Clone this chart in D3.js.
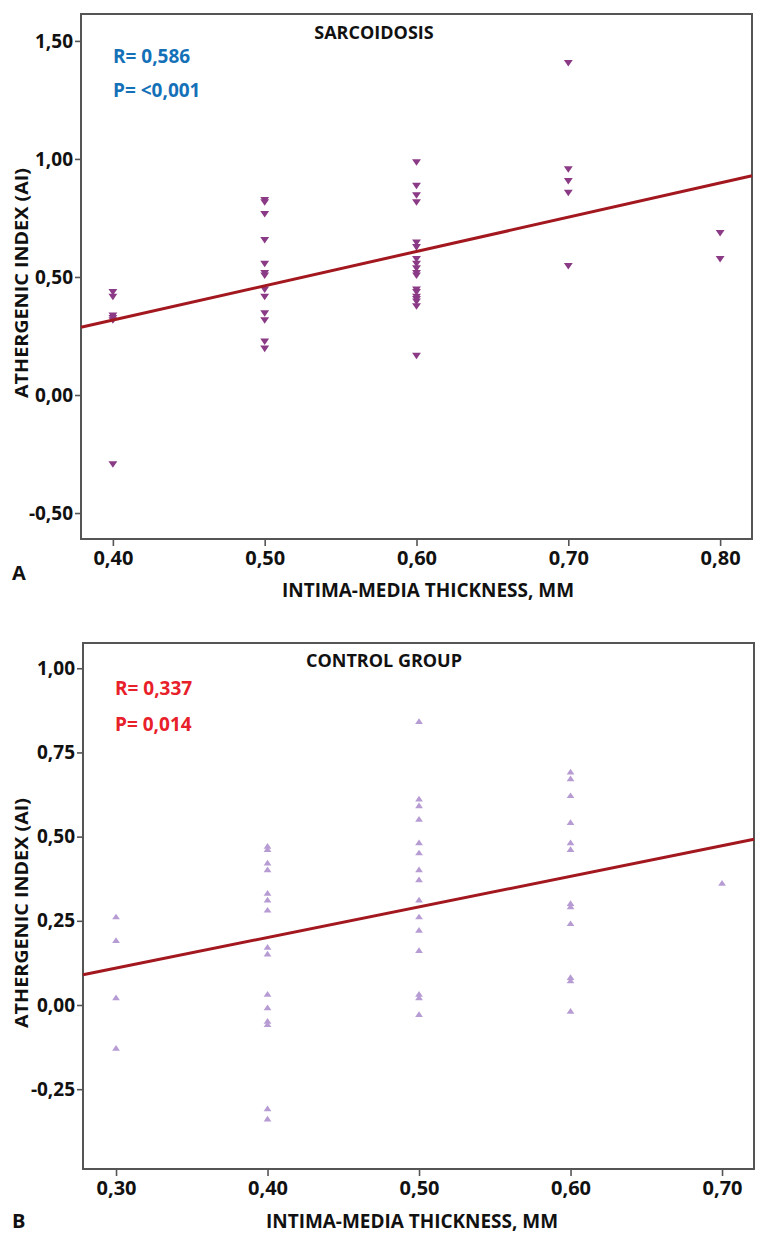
<!DOCTYPE html>
<html>
<head>
<meta charset="utf-8">
<script src="https://cdn.jsdelivr.net/npm/d3@7"></script>
<style>
  html, body { margin: 0; padding: 0; background: #fff; }
  svg { display: block; }
  text { font-family: "Open Sans", "Noto Sans", sans-serif; font-weight: 700; }
</style>
</head>
<body>
<svg id="chart" width="770" height="1239"></svg>
<script>
// ---------- Data ----------
// Panel A: Sarcoidosis
const sarcIMT = [
  0.40, 0.40, 0.40, 0.40, 0.40, 0.40,
  0.50, 0.50, 0.50, 0.50, 0.50, 0.50, 0.50, 0.50, 0.50, 0.50, 0.50, 0.50, 0.50,
  0.60, 0.60, 0.60, 0.60, 0.60, 0.60, 0.60, 0.60, 0.60, 0.60, 0.60, 0.60, 0.60, 0.60, 0.60, 0.60, 0.60, 0.60,
  0.70, 0.70, 0.70, 0.70, 0.70,
  0.80, 0.80
];
const sarcAI = [
  0.44, 0.42, 0.34, 0.33, 0.32, -0.29,
  0.83, 0.82, 0.77, 0.66, 0.56, 0.52, 0.51, 0.45, 0.42, 0.35, 0.32, 0.23, 0.20,
  0.99, 0.89, 0.85, 0.82, 0.65, 0.63, 0.58, 0.56, 0.54, 0.52, 0.51, 0.45, 0.44, 0.42, 0.41, 0.40, 0.38, 0.17,
  1.41, 0.96, 0.91, 0.86, 0.55,
  0.69, 0.58
];
const sarcFitIMT = [0.379, 0.821];
const sarcFitAI = [0.287, 0.929];
const sarcXTicks = [0.40, 0.50, 0.60, 0.70, 0.80];
const sarcYTicks = [-0.50, 0.00, 0.50, 1.00, 1.50];
const sarcXDomain = [0.379, 0.821];
const sarcYDomain = [-0.610, 1.614];

// Panel B: Control group
const ctrlIMT = [
  0.30, 0.30, 0.30, 0.30,
  0.40, 0.40, 0.40, 0.40, 0.40, 0.40, 0.40, 0.40, 0.40, 0.40, 0.40, 0.40, 0.40, 0.40, 0.40,
  0.50, 0.50, 0.50, 0.50, 0.50, 0.50, 0.50, 0.50, 0.50, 0.50, 0.50, 0.50, 0.50, 0.50, 0.50,
  0.60, 0.60, 0.60, 0.60, 0.60, 0.60, 0.60, 0.60, 0.60, 0.60, 0.60, 0.60,
  0.70
];
const ctrlAI = [
  0.26, 0.19, 0.02, -0.13,
  0.47, 0.46, 0.42, 0.40, 0.33, 0.31, 0.28, 0.17, 0.15, 0.03, -0.01, -0.05, -0.06, -0.31, -0.34,
  0.84, 0.61, 0.59, 0.55, 0.48, 0.45, 0.40, 0.37, 0.31, 0.26, 0.22, 0.16, 0.03, 0.02, -0.03,
  0.69, 0.67, 0.62, 0.54, 0.48, 0.46, 0.30, 0.29, 0.24, 0.08, 0.07, -0.02,
  0.36
];
const ctrlFitIMT = [0.2782, 0.7211];
const ctrlFitAI = [0.090, 0.492];
const ctrlXTicks = [0.30, 0.40, 0.50, 0.60, 0.70];
const ctrlYTicks = [-0.25, 0.00, 0.25, 0.50, 0.75, 1.00];
const ctrlXDomain = [0.2782, 0.7211];
const ctrlYDomain = [-0.487, 1.075];

const yTitle = "ATHERGENIC INDEX (AI)";
const xTitle = "INTIMA-MEDIA THICKNESS, MM";

// ---------- Drawing ----------
const svg = d3.select("#chart");
const fmt = d => d.toFixed(2).replace(".", ",");

function panel(cfg) {
  const x = d3.scaleLinear().domain(cfg.xDomain).range([cfg.left, cfg.right]);
  const y = d3.scaleLinear().domain(cfg.yDomain).range([cfg.bottom, cfg.top]);
  const g = svg.append("g");

  // axes
  const ya = g.append("g").attr("transform", `translate(${cfg.left},0)`)
    .call(d3.axisLeft(y).tickValues(cfg.yTicks).tickSize(6).tickPadding(2).tickFormat(fmt));
  const xa = g.append("g").attr("transform", `translate(0,${cfg.bottom})`)
    .call(d3.axisBottom(x).tickValues(cfg.xTicks).tickSize(7).tickPadding(5).tickFormat(fmt));
  [ya, xa].forEach(a => {
    a.select(".domain").remove();
    a.selectAll(".tick line").attr("stroke", "#555").attr("stroke-width", 1.6);
    a.selectAll(".tick text").attr("fill", "#111").style("font-size", "19px")
      .style("font-family", "'Open Sans', sans-serif").style("font-weight", 700);
  });
  xa.selectAll(".tick text").style("font-size", "20px");

  // frame
  g.append("rect")
    .attr("x", cfg.left).attr("y", cfg.top)
    .attr("width", cfg.right - cfg.left).attr("height", cfg.bottom - cfg.top)
    .attr("fill", "none").attr("stroke", "#555").attr("stroke-width", 2);

  // points
  const sym = d3.symbol().type(d3.symbolTriangle).size(cfg.symSize);
  const pts = cfg.xs.map((v, i) => [v, cfg.ys[i]]);
  g.append("g").selectAll("path").data(pts).join("path")
    .attr("d", sym)
    .attr("transform", d => `translate(${x(d[0])},${y(d[1])}) rotate(${cfg.rot}) scale(1,0.85)`)
    .attr("fill", cfg.color);

  // fit line
  const line = d3.line().x(d => x(d[0])).y(d => y(d[1]));
  g.append("path")
    .datum(cfg.fitX.map((v, i) => [v, cfg.fitY[i]]))
    .attr("d", line)
    .attr("fill", "none").attr("stroke", "#a3171f").attr("stroke-width", 3);

  // titles
  g.append("text").attr("x", cfg.titleX).attr("y", cfg.titleY)
    .attr("text-anchor", "middle").style("font-size", "18px").attr("fill", "#111")
    .text(cfg.title);
  g.append("text").attr("x", cfg.statX).attr("y", cfg.statY1)
    .style("font-size", "19px").attr("fill", cfg.statColor).text(cfg.r);
  g.append("text").attr("x", cfg.statX).attr("y", cfg.statY2)
    .style("font-size", "19px").attr("fill", cfg.statColor).text(cfg.p);

  // axis titles
  g.append("text")
    .attr("transform", `translate(${cfg.yTitleX},${cfg.yTitleY}) rotate(-90)`)
    .attr("text-anchor", "middle").style("font-size", "18px").attr("fill", "#111")
    .attr("textLength", 230).attr("lengthAdjust", "spacingAndGlyphs")
    .text(yTitle);
  g.append("text")
    .attr("x", cfg.xTitleX).attr("y", cfg.xTitleY)
    .attr("text-anchor", "middle").style("font-size", "20px").attr("fill", "#111")
    .attr("textLength", 292).attr("lengthAdjust", "spacingAndGlyphs")
    .text(xTitle);
  g.append("text").attr("x", 12).attr("y", cfg.letterY)
    .style("font-size", "20px").attr("fill", "#111").text(cfg.letter);
}

panel({
  left: 81, right: 752, top: 14, bottom: 539,
  xDomain: sarcXDomain, yDomain: sarcYDomain,
  xTicks: sarcXTicks, yTicks: sarcYTicks,
  xs: sarcIMT, ys: sarcAI, fitX: sarcFitIMT, fitY: sarcFitAI,
  symSize: 34, rot: 180, color: "#8b3a86",
  title: "SARCOIDOSIS", titleX: 374, titleY: 39,
  r: "R= 0,586", p: "P= <0,001", statX: 113, statY1: 63, statY2: 97, statColor: "#1471b8",
  yTitleX: 28, yTitleY: 283, xTitleX: 428, xTitleY: 597, letter: "A", letterY: 580
});

panel({
  left: 83, right: 754, top: 643, bottom: 1169,
  xDomain: ctrlXDomain, yDomain: ctrlYDomain,
  xTicks: ctrlXTicks, yTicks: ctrlYTicks,
  xs: ctrlIMT, ys: ctrlAI, fitX: ctrlFitIMT, fitY: ctrlFitAI,
  symSize: 26, rot: 0, color: "#b79cd4",
  title: "CONTROL GROUP", titleX: 384, titleY: 667,
  r: "R= 0,337", p: "P= 0,014", statX: 115, statY1: 695, statY2: 731, statColor: "#e8202a",
  yTitleX: 28, yTitleY: 913, xTitleX: 412, xTitleY: 1228, letter: "B", letterY: 1228
});
</script>
</body>
</html>
